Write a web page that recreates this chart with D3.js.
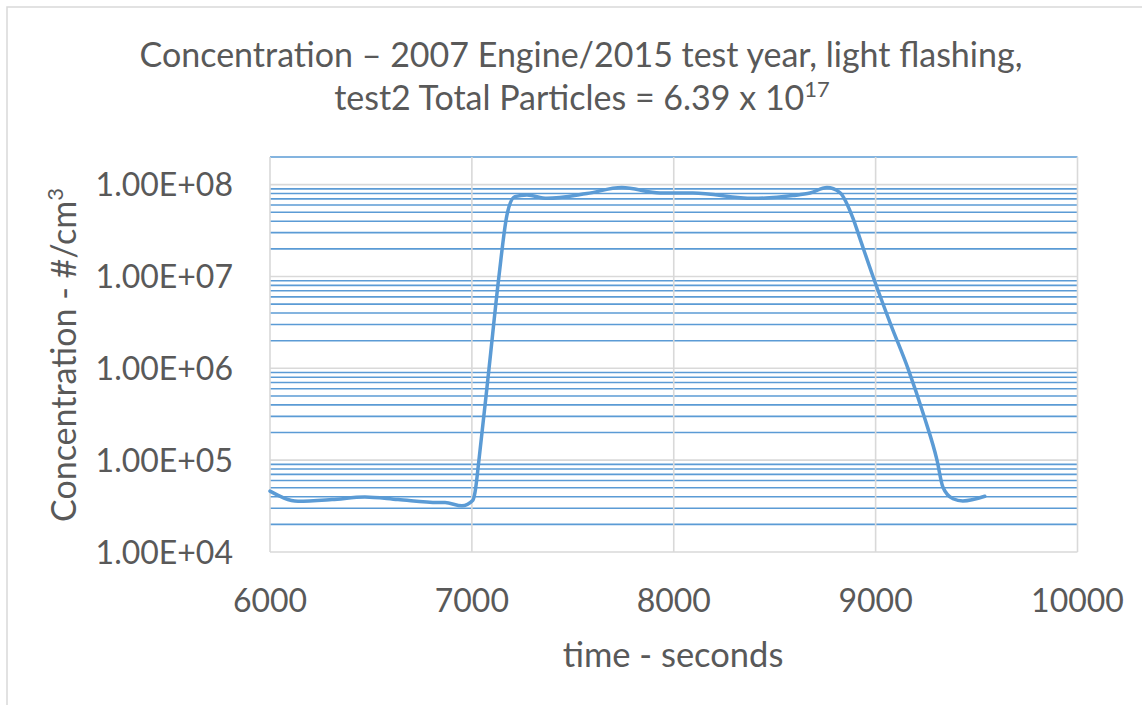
<!DOCTYPE html>
<html>
<head>
<meta charset="utf-8">
<script src="https://cdn.jsdelivr.net/npm/d3@7"></script>
<style>
html,body{margin:0;padding:0;background:#fff;}
svg{display:block;}
text{font-family:Lato,"Open Sans",sans-serif;fill:#595959;}
</style>
</head>
<body>
<svg id="chart" width="1142" height="705"></svg>
<script>
// ---- data ----
const times = [6000, 6139, 6307, 6470, 6634, 6832, 6867, 6951, 7005, 7015, 7035, 7085, 7134, 7174, 7213, 7273, 7372, 7570, 7743, 7932, 8095, 8392, 8590, 8675, 8759, 8823, 8888, 8922, 8987, 9075, 9160, 9240, 9304, 9333, 9383, 9432, 9541];
const concentration = [4.6e4, 3.57e4, 3.72e4, 3.97e4, 3.72e4, 3.45e4, 3.45e4, 3.18e4, 3.66e4, 4.4e4, 1e5, 1e6, 1e7, 4.7e7, 7.4e7, 7.7e7, 7.1e7, 8.0e7, 9.3e7, 8.1e7, 8.1e7, 7.1e7, 7.6e7, 8.1e7, 9.3e7, 8.2e7, 4.3e7, 2.6e7, 1e7, 3.0e6, 1e6, 3.0e5, 1e5, 5.1e4, 3.8e4, 3.6e4, 4.05e4];
const xTicks = [6000, 7000, 8000, 9000, 10000];
const yTicks = [1e4, 1e5, 1e6, 1e7, 1e8];
const yTickLabels = ["1.00E+04", "1.00E+05", "1.00E+06", "1.00E+07", "1.00E+08"];
const titleLine1 = "Concentration \u2013 2007 Engine/2015 test year, light flashing,";
const titleLine2 = "test2 Total Particles = 6.39 x 10";
const titleSup = "17";
const xTitle = "time - seconds";
const yTitle = "Concentration - #/cm";
const yTitleSup = "3";

// ---- layout ----
const svg = d3.select("#chart");
const x = d3.scaleLinear().domain([6000, 10000]).range([270, 1077.5]);
const y = d3.scaleLog().domain([1e4, 2e8]).range([552, 157]);

// chart border
svg.append("rect").attr("x", 7).attr("y", 7).attr("width", 1150).attr("height", 720)
  .attr("fill", "none").attr("stroke", "#D9D9D9").attr("stroke-width", 1.5);

// minor gridlines
const minor = [];
for (let e = 4; e <= 8; e++) for (let k = 2; k <= 9; k++) { const v = k * Math.pow(10, e); if (v <= 2e8 * 1.0001) minor.push(v); }
const g = svg.append("g");
g.selectAll("line.minor").data(minor).join("line")
  .attr("x1", x(6000)).attr("x2", x(10000))
  .attr("y1", d => y(d)).attr("y2", d => y(d))
  .attr("stroke", "#5B9BD5").attr("stroke-width", 1.6);

// major horizontal gridlines
g.selectAll("line.hmaj").data(yTicks).join("line")
  .attr("x1", x(6000)).attr("x2", x(10000))
  .attr("y1", d => y(d)).attr("y2", d => y(d))
  .attr("stroke", "#D9D9D9").attr("stroke-width", 1.6);

// vertical gridlines (including axis line at 6000)
svg.append("g").selectAll("line").data(xTicks).join("line")
  .attr("x1", d => x(d)).attr("x2", d => x(d))
  .attr("y1", y(2e8)).attr("y2", y(1e4))
  .attr("stroke", "#D9D9D9").attr("stroke-width", 1.6);

// line
const pts = times.map((t, i) => [t, concentration[i]]);
svg.append("path").datum(pts)
  .attr("d", d3.line().x(d => x(d[0])).y(d => y(d[1])).curve(d3.curveMonotoneX))
  .attr("fill", "none").attr("stroke", "#5B9BD5").attr("stroke-width", 3.5)
  .attr("stroke-linejoin", "round").attr("stroke-linecap", "round");

// y tick labels
svg.append("g").selectAll("text").data(yTicks).join("text")
  .attr("x", 233).attr("y", d => y(d) + 11.5)
  .attr("text-anchor", "end").attr("font-size", 32)
  .text((d, i) => yTickLabels[i]);

// x tick labels
svg.append("g").selectAll("text").data(xTicks).join("text")
  .attr("x", d => x(d)).attr("y", 612)
  .attr("text-anchor", "middle").attr("font-size", 32)
  .text(d => d);

// axis titles
svg.append("text").attr("x", 673).attr("y", 667).attr("text-anchor", "middle")
  .attr("font-size", 34.5).text(xTitle);

const yt = svg.append("text").attr("transform", "translate(76,355) rotate(-90)")
  .attr("text-anchor", "middle").attr("font-size", 34);
yt.append("tspan").text(yTitle);
yt.append("tspan").attr("font-size", 22).attr("dy", -13).text(yTitleSup);

// title
svg.append("text").attr("x", 581).attr("y", 67).attr("text-anchor", "middle")
  .attr("font-size", 34).text(titleLine1);
const t2 = svg.append("text").attr("x", 582).attr("y", 110).attr("text-anchor", "middle")
  .attr("font-size", 34);
t2.append("tspan").text(titleLine2);
t2.append("tspan").attr("font-size", 22).attr("dy", -13).text(titleSup);
</script>
</body>
</html>
